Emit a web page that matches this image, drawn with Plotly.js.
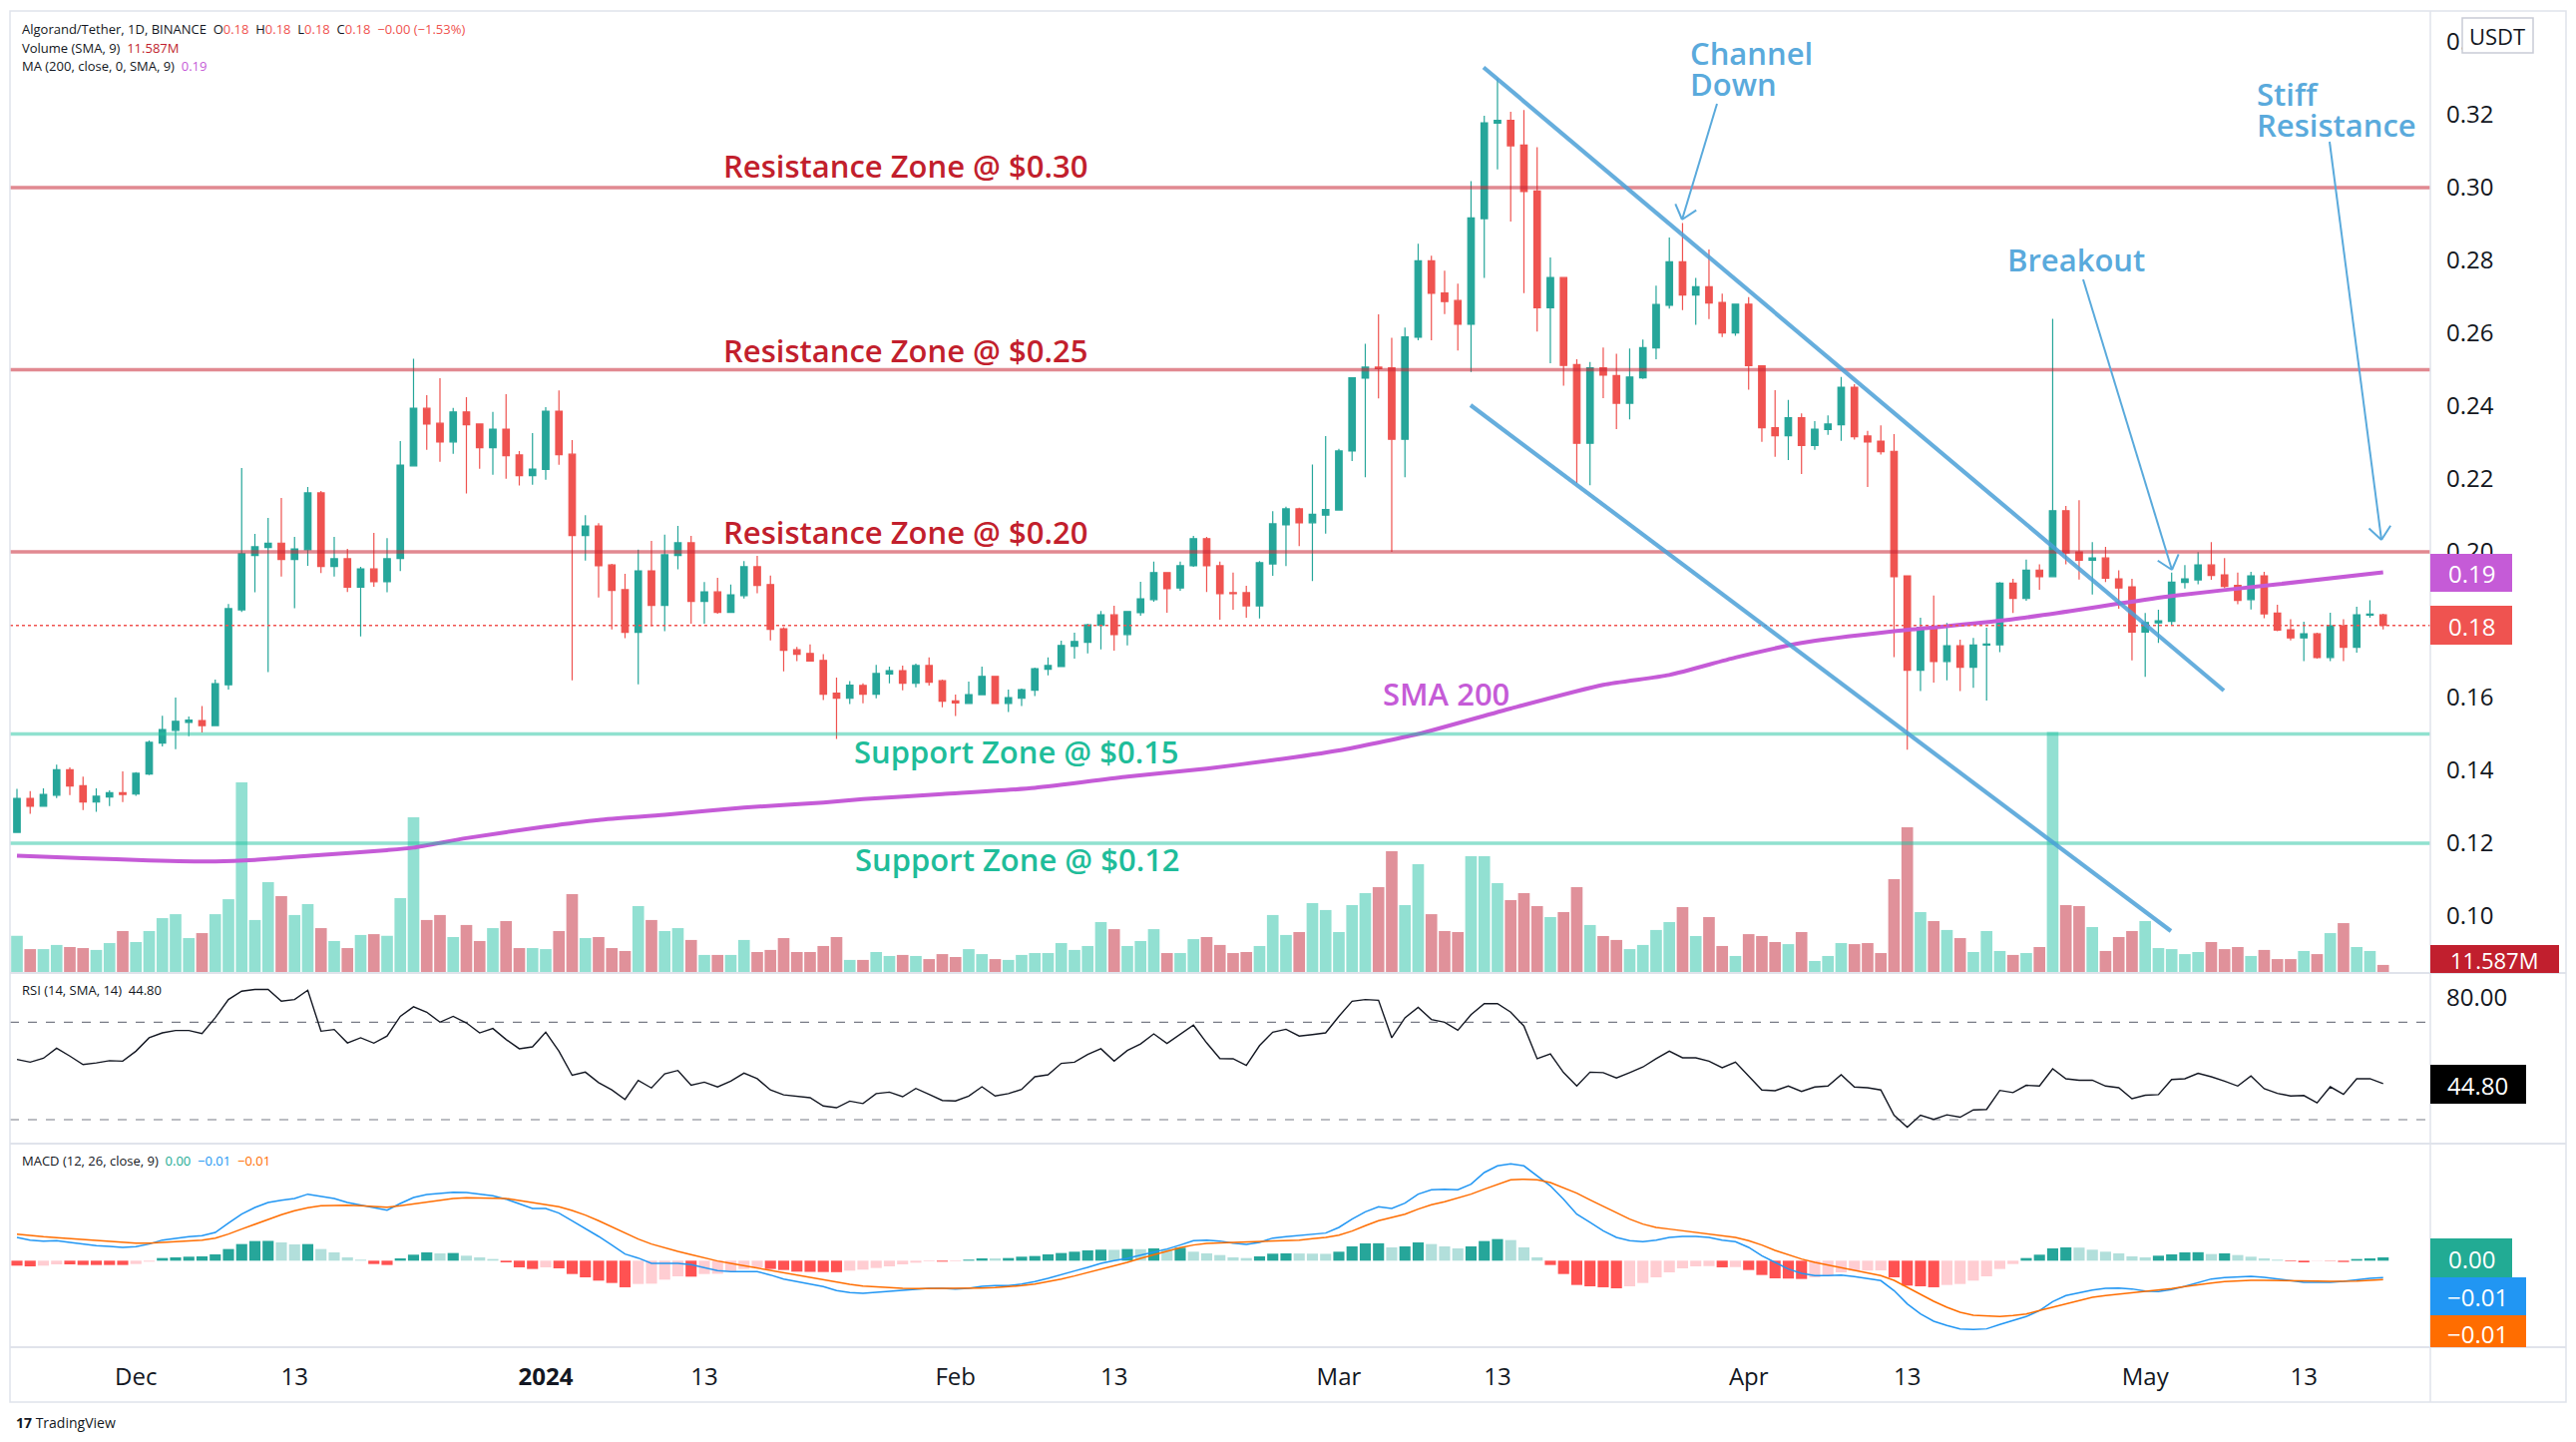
<!DOCTYPE html>
<html><head><meta charset="utf-8">
<script src="https://cdn.plot.ly/plotly-3.0.1.min.js"></script>
<style>html,body{margin:0;padding:0;background:#fff;}#chart{width:2582px;height:1445px;}</style>
</head><body><div id="chart"></div>
<script>
// ---------------- DATA ----------------
const firstDay = '2023-11-22';
const opens = [
.1230,.1323,.1302,.1332,.1402,.1358,.1313,.1327,.1339,.1335,
.1390,.1475,.1510,.1532,.1537,.1523,.1635,.1841,.1990,.2012,
.2024,.1979,.2006,.2162,.1960,.1981,.1903,.1953,.1918,.1982,
.2236,.2394,.2353,.2302,.2384,.2351,.2286,.2337,.2266,.2209,
.2226,.2386,.2268,.2045,.2071,.1964,.1896,.1779,.1948,.1853,
.1990,.2025,.1864,.1890,.1834,.1880,.1959,.1910,.1789,.1731,
.1721,.1702,.1612,.1598,.1633,.1609,.1665,.1674,.1639,.1688,
.1646,.1591,.1584,.1608,.1658,.1584,.1598,.1620,.1678,.1685,
.1741,.1752,.1798,.1827,.1773,.1833,.1869,.1943,.1901,.1962,
.2036,.1962,.1888,.1888,.1852,.1967,.2074,.2118,.2080,.2101,
.2115,.2277,.2477,.2507,.2505,.2309,.2589,.2799,.2711,.2690,
.2625,.2915,.3177,.3185,.3117,.2991,.2670,.2753,.2514,.2298,
.2505,.2484,.2408,.2478,.2560,.2677,.2796,.2705,.2728,.2685,
.2601,.2680,.2511,.2341,.2319,.2368,.2292,.2336,.2349,.2452,
.2318,.2304,.2276,.1934,.1675,.1793,.1699,.1742,.1683,.1744,
.1745,.1914,.1872,.1950,.1932,.2113,.2000,.1977,.1983,.1926,
.1904,.1780,.1805,.1809,.1916,.1923,.1964,.1937,.1908,.1869,
.1934,.1832,.1786,.1764,.1775,.1710,.1797,.1738,.1826,.1827];
const highs = [
.1349,.1343,.1351,.1416,.1408,.1383,.1351,.1345,.1397,.1395,
.1482,.1550,.1600,.1548,.1577,.1649,.1857,.2230,.2049,.2093,
.2148,.2041,.2178,.2167,.2041,.2008,.1959,.2052,.2038,.2304,
.2530,.2430,.2477,.2395,.2425,.2353,.2384,.2433,.2277,.2326,
.2397,.2443,.2307,.2101,.2079,.1967,.1940,.2006,.2030,.2047,
.2071,.2044,.1917,.1929,.1910,.1975,.1989,.1935,.1793,.1739,
.1746,.1719,.1655,.1645,.1639,.1690,.1685,.1688,.1693,.1710,
.1649,.1608,.1644,.1685,.1658,.1622,.1625,.1682,.1710,.1756,
.1778,.1803,.1838,.1852,.1838,.1918,.1973,.1943,.1973,.2044,
.2041,.1973,.1943,.1907,.1975,.2112,.2124,.2121,.2240,.2318,
.2283,.2478,.2571,.2652,.2588,.2616,.2846,.2813,.2772,.2736,
.3018,.3197,.3299,.3208,.3213,.3111,.2808,.2753,.2529,.2521,
.2561,.2544,.2558,.2583,.2731,.2863,.2903,.2752,.2830,.2709,
.2680,.2699,.2511,.2444,.2417,.2380,.2359,.2375,.2480,.2460,
.2332,.2347,.2323,.1934,.1819,.1880,.1805,.1759,.1764,.1792,
.1917,.1926,.1979,.1966,.2640,.2126,.2142,.2027,.2014,.1949,
.1926,.1832,.1841,.1943,.1964,.1999,.2027,.1983,.1943,.1945,
.1945,.1855,.1815,.1808,.1778,.1833,.1815,.1849,.1867,.1830];
const lows = [
.1230,.1281,.1302,.1324,.1332,.1291,.1286,.1302,.1313,.1330,
.1387,.1466,.1458,.1494,.1504,.1523,.1622,.1835,.1889,.1670,
.1932,.1845,.1962,.1942,.1932,.1890,.1768,.1904,.1889,.1947,
.2236,.2280,.2247,.2269,.2160,.2228,.2212,.2201,.2182,.2184,
.2198,.2239,.1647,.1976,.1875,.1787,.1763,.1636,.1796,.1782,
.1952,.1803,.1803,.1830,.1834,.1872,.1886,.1757,.1672,.1700,
.1700,.1593,.1486,.1582,.1584,.1598,.1639,.1620,.1628,.1633,
.1573,.1549,.1582,.1606,.1584,.1560,.1577,.1604,.1661,.1685,
.1707,.1721,.1732,.1729,.1743,.1825,.1863,.1833,.1893,.1959,
.1890,.1814,.1841,.1819,.1817,.1934,.1961,.2016,.1920,.2050,
.2115,.2249,.2205,.2421,.2000,.2205,.2581,.2581,.2653,.2553,
.2494,.2752,.3050,.2907,.2710,.2605,.2518,.2456,.2189,.2183,
.2422,.2337,.2364,.2475,.2529,.2668,.2664,.2623,.2639,.2590,
.2593,.2445,.2302,.2261,.2252,.2214,.2280,.2321,.2305,.2308,
.2178,.2267,.1711,.1457,.1618,.1641,.1647,.1618,.1627,.1592,
.1725,.1832,.1866,.1896,.1932,.1966,.1924,.1883,.1917,.1844,
.1702,.1657,.1750,.1798,.1899,.1911,.1923,.1900,.1856,.1842,
.1818,.1782,.1757,.1700,.1707,.1700,.1700,.1723,.1819,.1787];
const closes = [
.1323,.1302,.1334,.1402,.1357,.1313,.1329,.1339,.1334,.1392,
.1477,.1512,.1535,.1538,.1523,.1638,.1844,.1995,.2014,.2024,
.1979,.2008,.2162,.1960,.1981,.1903,.1953,.1918,.1981,.2238,
.2394,.2351,.2302,.2384,.2349,.2286,.2337,.2264,.2209,.2227,
.2386,.2267,.2045,.2071,.1962,.1894,.1779,.1948,.1853,.1992,
.2025,.1864,.1890,.1834,.1882,.1959,.1908,.1787,.1730,.1719,
.1700,.1609,.1598,.1634,.1609,.1666,.1674,.1639,.1688,.1642,
.1590,.1585,.1608,.1658,.1584,.1600,.1622,.1679,.1688,.1743,
.1754,.1800,.1827,.1773,.1836,.1871,.1943,.1899,.1962,.2036,
.1962,.1885,.1885,.1852,.1970,.2077,.2118,.2080,.2103,.2116,
.2277,.2478,.2507,.2503,.2309,.2590,.2799,.2710,.2687,.2625,
.2917,.3178,.3185,.3115,.2989,.2670,.2753,.2512,.2298,.2505,
.2485,.2408,.2480,.2561,.2679,.2796,.2705,.2728,.2683,.2601,
.2680,.2511,.2341,.2319,.2368,.2292,.2337,.2351,.2452,.2316,
.2302,.2275,.1932,.1675,.1793,.1699,.1742,.1683,.1744,.1747,
.1914,.1872,.1950,.1932,.2113,.1997,.1977,.1983,.1928,.1901,
.1780,.1806,.1811,.1917,.1926,.1964,.1935,.1905,.1867,.1934,
.1830,.1785,.1764,.1775,.1710,.1797,.1738,.1827,.1829,.1798];
// volume, millions
const volumes = [
17.4,11.0,11.0,13.0,12.0,11.5,10.6,13.9,19.7,14.4,
19.7,25.9,27.8,16.3,18.7,27.8,35.0,91.2,25.0,43.2,
36.5,27.4,32.6,21.1,14.9,11.5,17.8,18.2,17.4,35.5,
74.4,25.0,27.4,16.8,22.6,14.9,21.1,24.5,11.5,11.5,
11.0,19.7,37.4,16.3,16.8,11.5,10.1,31.7,25.0,19.7,
21.1,15.4,8.2,8.2,8.2,15.4,9.6,10.6,16.3,9.6,
9.6,12.5,16.8,5.8,5.8,9.6,7.7,8.2,7.7,6.2,
8.6,7.2,11.0,8.6,6.2,5.8,8.2,9.1,9.1,13.9,
10.6,12.5,24.0,20.6,12.5,14.9,20.6,9.1,9.1,15.8,
16.8,13.0,9.1,9.6,12.5,27.4,17.8,19.2,33.1,29.8,
19.2,32.2,37.9,40.8,58.1,32.2,51.8,27.8,19.7,19.2,
55.7,55.7,42.7,34.6,37.9,31.7,26.4,28.8,40.8,22.6,
17.3,15.4,11.0,13.0,20.2,24.0,31.2,17.3,26.4,12.5,
7.7,18.2,17.3,14.4,13.4,19.2,5.3,7.7,13.9,13.4,
13.9,9.1,44.6,69.6,28.8,24.5,20.2,16.3,9.6,19.7,
10.1,8.2,9.1,12.0,115.5,32.2,31.7,21.6,10.1,16.8,
19.7,24.5,11.5,11.0,8.6,9.6,14.4,11.0,12.0,7.7,
10.6,6.2,6.2,10.1,8.6,18.7,23.5,12.0,10.1,3.4];
const smaDates = ['2023-11-22','2023-11-27','2023-12-02','2023-12-07','2023-12-10','2023-12-15','2023-12-20','2023-12-22','2023-12-26','2024-01-01','2024-01-05','2024-01-10','2024-01-16','2024-01-22','2024-01-25','2024-01-31','2024-02-07','2024-02-14','2024-02-20','2024-02-25','2024-03-01','2024-03-07','2024-03-14','2024-03-21','2024-03-26','2024-03-31','2024-04-05','2024-04-12','2024-04-16','2024-04-21','2024-04-26','2024-04-29','2024-05-03','2024-05-11','2024-05-19'];
const sma200 = [0.1166,0.1159,0.1153,0.1150,0.1154,0.1168,0.1181,0.1188,0.1214,0.1246,0.1264,0.1278,0.1298,0.1312,0.1321,0.1335,0.1352,0.1383,0.1405,0.1428,0.1455,0.1500,0.1570,0.1635,0.1662,0.1710,0.1750,0.1782,0.1796,0.1815,0.1841,0.1858,0.1879,0.1911,0.1944];
const rsi = [
54.7,53.6,55.2,59.3,56.1,52.6,53.3,54.2,54.0,58.1,
63.6,65.6,66.6,66.6,65.3,71.8,79.3,82.7,83.4,83.4,
78.6,79.3,83.1,66.3,67.0,61.5,63.6,61.4,64.3,72.4,
76.3,74.1,70.0,72.4,69.7,65.6,67.4,62.9,59.1,59.9,
65.9,58.1,48.2,49.5,45.2,42.2,38.3,46.1,43.0,48.8,
50.2,44.1,45.4,43.4,45.8,49.1,46.8,42.2,40.2,39.7,
39.0,35.6,34.9,37.6,36.6,40.7,41.3,39.4,42.8,40.4,
37.9,37.7,39.7,43.5,39.7,40.7,42.4,47.6,48.4,53.1,
53.6,56.8,59.1,54.0,58.4,61.1,65.2,61.3,65.2,68.8,
61.5,55.1,55.0,52.3,60.4,65.9,67.1,64.3,64.9,65.6,
72.4,78.6,79.3,79.0,63.6,71.8,76.1,71.1,70.0,66.7,
73.1,77.6,77.6,74.1,68.4,55.0,57.0,49.3,43.8,49.5,
49.3,47.1,49.3,51.6,55.0,58.1,55.4,55.4,54.0,51.3,
53.6,47.9,42.2,41.9,43.8,41.6,43.4,43.8,48.4,43.4,
43.1,42.2,31.8,26.9,31.8,30.1,32.0,31.0,34.0,34.2,
42.0,41.1,44.1,43.8,50.9,46.8,46.2,46.2,43.8,43.1,
38.6,40.0,40.3,46.5,46.8,49.0,47.6,45.8,43.8,47.9,
42.7,40.8,39.7,39.9,36.9,43.5,40.4,46.8,46.8,44.8];
const macdLine = [
.00729,.00646,.00615,.00625,.00573,.00521,.00469,.00448,.00417,.00438,
.00521,.00646,.00708,.00750,.00781,.00885,.01177,.01458,.01667,.01823,
.01896,.01948,.02083,.02010,.01948,.01823,.01740,.01656,.01583,.01792,
.01979,.02073,.02104,.02146,.02135,.02073,.02031,.01927,.01771,.01635,
.01635,.01490,.01250,.01010,.00760,.00490,.00208,.00083,-.00083,-.00083,
-.00083,-.00125,-.00229,-.00313,-.00344,-.00344,-.00344,-.00448,-.00573,-.00656,
-.00729,-.00813,-.00938,-.01000,-.01021,-.00990,-.00958,-.00938,-.00906,-.00865,
-.00865,-.00885,-.00865,-.00802,-.00781,-.00781,-.00729,-.00656,-.00552,-.00448,
-.00323,-.00208,-.00083,.00000,.00073,.00177,.00260,.00365,.00490,.00625,
.00646,.00615,.00552,.00510,.00573,.00708,.00750,.00781,.00833,.00865,
.01042,.01302,.01531,.01688,.01635,.01802,.02083,.02219,.02240,.02219,
.02396,.02760,.02969,.03031,.02969,.02656,.02344,.01927,.01458,.01198,
.00938,.00729,.00625,.00594,.00646,.00729,.00760,.00760,.00729,.00646,
.00594,.00417,.00156,-.00052,-.00260,-.00396,-.00469,-.00469,-.00448,-.00500,
-.00552,-.00625,-.00938,-.01354,-.01667,-.01896,-.02031,-.02135,-.02156,-.02135,
-.02000,-.01875,-.01750,-.01563,-.01281,-.01094,-.01010,-.00917,-.00865,-.00854,
-.00885,-.00948,-.00969,-.00906,-.00802,-.00698,-.00573,-.00531,-.00521,-.00490,
-.00521,-.00573,-.00615,-.00677,-.00677,-.00677,-.00646,-.00594,-.00552,-.00531];
const signalLine = [
.00833,.00781,.00750,.00719,.00688,.00656,.00625,.00594,.00563,.00552,
.00552,.00573,.00594,.00615,.00646,.00708,.00833,.00990,.01146,.01302,
.01438,.01563,.01656,.01719,.01740,.01740,.01719,.01688,.01677,.01719,
.01781,.01844,.01906,.01948,.01969,.01969,.01969,.01948,.01885,.01823,
.01771,.01688,.01573,.01427,.01250,.01063,.00865,.00677,.00521,.00396,
.00292,.00188,.00083,-.00010,-.00083,-.00156,-.00229,-.00292,-.00365,-.00438,
-.00521,-.00594,-.00677,-.00740,-.00792,-.00823,-.00854,-.00865,-.00875,-.00875,
-.00875,-.00865,-.00865,-.00854,-.00844,-.00823,-.00781,-.00729,-.00656,-.00573,
-.00479,-.00375,-.00271,-.00156,-.00052,.00073,.00188,.00302,.00406,.00490,
.00540,.00560,.00575,.00590,.00600,.00615,.00625,.00646,.00688,.00729,
.00802,.00927,.01094,.01250,.01354,.01458,.01615,.01750,.01844,.01958,
.02083,.02240,.02396,.02531,.02552,.02531,.02448,.02292,.02115,.01906,
.01698,.01490,.01302,.01146,.01042,.00990,.00938,.00896,.00844,.00792,
.00729,.00625,.00490,.00323,.00177,.00052,-.00052,-.00135,-.00229,-.00313,
-.00385,-.00469,-.00615,-.00833,-.01063,-.01271,-.01458,-.01615,-.01708,-.01740,
-.01750,-.01719,-.01667,-.01563,-.01458,-.01333,-.01229,-.01146,-.01094,-.01052,
-.01010,-.00969,-.00938,-.00875,-.00813,-.00750,-.00698,-.00656,-.00625,-.00615,
-.00615,-.00615,-.00625,-.00635,-.00635,-.00646,-.00646,-.00635,-.00615,-.00594];
const macdHist = [
-.00156,-.00177,-.00156,-.00115,-.00115,-.00135,-.00135,-.00135,-.00135,-.00104,
-.00031,.00083,.00104,.00125,.00135,.00198,.00365,.00521,.00615,.00620,
.00573,.00510,.00520,.00365,.00260,.00104,.00031,-.00104,-.00135,.00073,
.00188,.00260,.00229,.00240,.00156,.00104,.00052,-.00052,-.00208,-.00260,
-.00208,-.00240,-.00417,-.00521,-.00625,-.00698,-.00833,-.00729,-.00720,-.00594,
-.00490,-.00500,-.00417,-.00410,-.00333,-.00260,-.00208,-.00260,-.00292,-.00344,
-.00350,-.00355,-.00360,-.00313,-.00281,-.00229,-.00177,-.00115,-.00063,-.00021,
-.00031,-.00021,.00031,.00073,.00070,.00083,.00125,.00146,.00198,.00240,
.00281,.00323,.00344,.00340,.00365,.00360,.00385,.00365,.00406,.00281,
.00229,.00177,.00104,.00083,.00135,.00219,.00229,.00225,.00220,.00215,
.00281,.00448,.00542,.00545,.00417,.00448,.00573,.00521,.00448,.00385,
.00448,.00615,.00677,.00646,.00417,.00104,-.00135,-.00417,-.00760,-.00802,
-.00833,-.00865,-.00802,-.00698,-.00521,-.00365,-.00240,-.00177,-.00170,-.00208,
-.00200,-.00292,-.00448,-.00552,-.00560,-.00573,-.00521,-.00469,-.00365,-.00313,
-.00310,-.00305,-.00521,-.00781,-.00802,-.00833,-.00760,-.00729,-.00625,-.00490,
-.00260,-.00104,.00083,.00188,.00385,.00417,.00410,.00344,.00281,.00229,
.00135,.00104,.00156,.00198,.00260,.00265,.00208,.00229,.00177,.00125,
.00073,.00031,-.00021,-.00052,-.00010,-.00010,-.00042,.00052,.00073,.00104];
const resistanceLevels = [0.30, 0.25, 0.20];
const supportLevels = [0.15, 0.12];
const tickDates = ['2023-12-01','2023-12-13','2024-01-01','2024-01-13','2024-02-01','2024-02-13','2024-03-01','2024-03-13','2024-04-01','2024-04-13','2024-05-01','2024-05-13'];
const tickLabels = ['Dec','13','<b>2024</b>','13','Feb','13','Mar','13','Apr','13','May','13'];
const priceTicks = [0.10,0.12,0.14,0.16,0.18,0.20,0.22,0.24,0.26,0.28,0.30,0.32,0.34];

// ---------------- BUILD ----------------
const DAY = 86400000;
const startMs = Date.parse(firstDay + 'T00:00:00Z');
const dates = opens.map((_, i) => new Date(startMs + i * DAY).toISOString().slice(0, 10));
const UP = '#26a69a', DOWN = '#ef5350';
const volColors = opens.map((o, i) => closes[i] >= o ? '#92e0d2' : '#e0919a');
const histColors = macdHist.map((h, i) => {
  const p = i > 0 ? macdHist[i - 1] : h;
  if (h >= 0) return h > p ? '#26a69a' : '#b2dfdb';
  return h > p ? '#ffcdd2' : '#ff5252';
});

// page pixel -> paper helpers (plot area x:10..2436, y:12..1350)
const L = 10, R = 2436, T = 12, B = 1350;
const PX = x => (x - L) / (R - L);
const PY = y => (B - y) / (B - T);
const FONT = 'Open Sans, Noto Sans, sans-serif';
const BLUE = '#5aaadc';

const traces = [
  {type: 'bar', x: dates, y: volumes, xaxis: 'x', yaxis: 'y', width: 0.88 * DAY,
   marker: {color: volColors, line: {width: 0}}, hoverinfo: 'skip', showlegend: false},
  {type: 'candlestick', x: dates, open: opens, high: highs, low: lows, close: closes,
   xaxis: 'x', yaxis: 'y4', whiskerwidth: 0, hoverinfo: 'skip', showlegend: false,
   increasing: {line: {color: UP, width: 1.2}, fillcolor: UP},
   decreasing: {line: {color: DOWN, width: 1.2}, fillcolor: DOWN}},
  {type: 'scatter', mode: 'lines', x: smaDates, y: sma200, xaxis: 'x', yaxis: 'y4',
   line: {color: '#c55bd7', width: 4, shape: 'spline', smoothing: 0.6}, hoverinfo: 'skip', showlegend: false},
  {type: 'scatter', mode: 'lines', x: dates, y: rsi, xaxis: 'x', yaxis: 'y2',
   line: {color: '#131722', width: 1.4}, hoverinfo: 'skip', showlegend: false},
  {type: 'bar', x: dates, y: macdHist, xaxis: 'x', yaxis: 'y3', width: 0.84 * DAY,
   marker: {color: histColors, line: {width: 0}}, hoverinfo: 'skip', showlegend: false},
  {type: 'scatter', mode: 'lines', x: dates, y: macdLine, xaxis: 'x', yaxis: 'y3',
   line: {color: '#2196f3', width: 1.5}, hoverinfo: 'skip', showlegend: false},
  {type: 'scatter', mode: 'lines', x: dates, y: signalLine, xaxis: 'x', yaxis: 'y3',
   line: {color: '#ff6d00', width: 1.5}, hoverinfo: 'skip', showlegend: false}
];

const shapes = [];
function pline(x0, y0, x1, y1, color, width, extra) {
  shapes.push(Object.assign({type: 'line', xref: 'paper', yref: 'paper', layer: 'above',
    x0: PX(x0), y0: PY(y0), x1: PX(x1), y1: PY(y1), line: {color: color, width: width}}, extra || {}));
}
function prect(x0, y0, x1, y1, fill, lineColor) {
  shapes.push({type: 'rect', xref: 'paper', yref: 'paper', layer: 'above',
    x0: PX(x0), y0: PY(y0), x1: PX(x1), y1: PY(y1), fillcolor: fill,
    line: {color: lineColor || fill, width: lineColor ? 1.5 : 0}});
}
function arrow(x0, y0, x1, y1) {
  pline(x0, y0, x1, y1, BLUE, 2);
  const dx = x1 - x0, dy = y1 - y0, d = Math.hypot(dx, dy);
  const vx = -dx / d, vy = -dy / d, len = 17;
  [40, -40].forEach(a => {
    const r = a * Math.PI / 180;
    const ex = vx * Math.cos(r) - vy * Math.sin(r), ey = vx * Math.sin(r) + vy * Math.cos(r);
    pline(x1, y1, x1 + ex * len, y1 + ey * len, BLUE, 2);
  });
}

// zone lines
resistanceLevels.forEach(v => shapes.push({type: 'line', xref: 'paper', yref: 'y4', layer: 'above',
  x0: 0, x1: 1, y0: v, y1: v, line: {color: 'rgba(200,40,55,0.55)', width: 3.5}}));
supportLevels.forEach(v => shapes.push({type: 'line', xref: 'paper', yref: 'y4', layer: 'above',
  x0: 0, x1: 1, y0: v, y1: v, line: {color: 'rgba(34,195,160,0.5)', width: 3.5}}));
// current price dotted line
shapes.push({type: 'line', xref: 'paper', yref: 'y4', layer: 'above', x0: 0, x1: 1,
  y0: closes[closes.length - 1], y1: closes[closes.length - 1],
  line: {color: '#ef5350', width: 1.3, dash: 'dot'}});
// RSI bands
[70, 30].forEach(v => shapes.push({type: 'line', xref: 'paper', yref: 'y2', layer: 'below',
  x0: 0, x1: 1, y0: v, y1: v, line: {color: '#787b86', width: 1.2, dash: 'dash'}}));
// channel
pline(1487, 67.5, 2229, 692, 'rgba(75,160,215,0.85)', 4.2);
pline(1474, 406, 2176, 933, 'rgba(75,160,215,0.85)', 4.2);
// arrows
arrow(1721, 104, 1686, 220);
arrow(2088, 280, 2177, 571);
arrow(2335, 142, 2387, 541);
// frame & separators
const GRID = '#e0e3eb';
pline(10, 975, 2572, 975, GRID, 2);
pline(10, 1146, 2572, 1146, GRID, 2);
pline(10, 1350, 2572, 1350, GRID, 2);
pline(2436, 11, 2436, 1405, GRID, 1.5);
shapes.push({type: 'rect', xref: 'paper', yref: 'paper', layer: 'above',
  x0: PX(10), y0: PY(11), x1: PX(2572), y1: PY(1405), line: {color: GRID, width: 1.5}});

// value boxes on the scales
prect(2436, 555, 2518, 593, '#c55bd7');
prect(2436, 607, 2518, 646, '#ef5350');
prect(2436, 947, 2565, 975, '#c11f2e');
prect(2436, 1067, 2532, 1106, '#000000');
prect(2436, 1241, 2518, 1280, '#22ab94');
prect(2436, 1280, 2532, 1318, '#2196f3');
prect(2436, 1318, 2532, 1350, '#ff6d00');
prect(2468, 18, 2539, 53, '#ffffff', '#c9ccd6');

const ann = [];
function txt(x, y, text, size, color, opt) {
  ann.push(Object.assign({xref: 'paper', yref: 'paper', x: PX(x), y: PY(y), text: text, showarrow: false,
    xanchor: 'center', yanchor: 'middle', font: {family: FONT, size: size, color: color}}, opt || {}));
}
function label(x, y, text, color, anchor) {
  txt(x, y, text, 31, color, {xanchor: anchor || 'center', font: {family: FONT, weight: 600, size: 31, color: color}});
}
const RED = '#c21f2d', TEAL = '#1fbd9a', PURP = '#c55bd7';
label(907, 166, 'Resistance Zone @ $0.30', RED);
label(907, 351, 'Resistance Zone @ $0.25', RED);
label(907, 533, 'Resistance Zone @ $0.20', RED);
label(1019, 753, 'Support Zone @ $0.15', TEAL);
label(1020, 861, 'Support Zone @ $0.12', TEAL);
label(1449, 695, 'SMA 200', PURP);
label(1692, 53, 'Channel', BLUE, 'left');
label(1692, 84, 'Down', BLUE, 'left');
label(2010, 260, 'Breakout', BLUE, 'left');
label(2260, 94, 'Stiff', BLUE, 'left');
label(2260, 125, 'Resistance', BLUE, 'left');

// scale box texts
txt(2477, 574, '0.19', 24, '#ffffff');
txt(2477, 627, '0.18', 24, '#ffffff');
txt(2500, 962, '11.587M', 22, '#ffffff');
txt(2484, 1087, '44.80', 24, '#ffffff');
txt(2477, 1261, '0.00', 24, '#ffffff');
txt(2484, 1299, '\u22120.01', 24, '#ffffff');
txt(2484, 1336, '\u22120.01', 24, '#ffffff');
txt(2503, 36, 'USDT', 22, '#131722');

// legends
const S = '\u00A0\u00A0';
const rd = v => '<span style="color:#ef5350">' + v + '</span>';
txt(20, 29, 'Algorand/Tether, 1D, BINANCE' + S + 'O' + rd('0.18') + S + 'H' + rd('0.18') + S + 'L' + rd('0.18') + S + 'C' + rd('0.18') + S + rd('\u22120.00 (\u22121.53%)'),
  13, '#131722', {xanchor: 'left'});
txt(20, 48, 'Volume (SMA, 9)' + S + '<span style="color:#c11f2e">11.587M</span>', 13, '#131722', {xanchor: 'left'});
txt(20, 66, 'MA (200, close, 0, SMA, 9)' + S + '<span style="color:#c55bd7">0.19</span>', 13, '#131722', {xanchor: 'left'});
txt(20, 992, 'RSI (14, SMA, 14)' + S + '44.80', 13, '#131722', {xanchor: 'left'});
txt(20, 1163, 'MACD (12, 26, close, 9)' + S + '<span style="color:#22ab94">0.00</span>' + S +
  '<span style="color:#2196f3">\u22120.01</span>' + S + '<span style="color:#ff6d00">\u22120.01</span>', 13, '#131722', {xanchor: 'left'});
txt(14, 1425, '<b>17</b> TradingView', 14, '#131722', {xanchor: 'left'});

const layout = {
  width: 2582, height: 1445,
  margin: {l: L, r: 2582 - R, t: T, b: 1445 - B},
  paper_bgcolor: '#ffffff', plot_bgcolor: '#ffffff',
  font: {family: FONT, color: '#131722'},
  showlegend: false, hovermode: false, dragmode: false,
  xaxis: {type: 'date', anchor: 'y3', range: [startMs - 0.528 * DAY, startMs + 182.57 * DAY],
    showgrid: false, zeroline: false, showline: false, ticks: '',
    tickvals: tickDates, ticktext: tickLabels, tickfont: {size: 24, color: '#131722', family: FONT},
    ticklabelstandoff: 13, rangeslider: {visible: false}, fixedrange: true},
  yaxis: {domain: [PY(974), 1], range: [0, 461.8], visible: false, fixedrange: true},
  yaxis4: {overlaying: 'y', side: 'right', anchor: 'x', range: [0.08466, 0.34822],
    tickvals: priceTicks, ticktext: priceTicks.map(v => v.toFixed(2)),
    showgrid: false, zeroline: false, showline: false, ticks: '',
    tickfont: {size: 24, color: '#131722', family: FONT}, ticklabelstandoff: 15, fixedrange: true},
  yaxis2: {domain: [PY(1146), PY(975.5)], anchor: 'x', side: 'right', range: [20.17, 89.98],
    tickvals: [80], ticktext: ['80.00'], showgrid: false, zeroline: false, showline: false, ticks: '',
    tickfont: {size: 24, color: '#131722', family: FONT}, ticklabelstandoff: 15, fixedrange: true},
  yaxis3: {domain: [0, PY(1146)], anchor: 'x', side: 'right', range: [-0.02709, 0.03666],
    showticklabels: false, showgrid: false, zeroline: false, showline: false, ticks: '', fixedrange: true},
  shapes: shapes,
  annotations: ann
};

Plotly.newPlot('chart', traces, layout, {staticPlot: true, displayModeBar: false});
</script>
</body></html>
